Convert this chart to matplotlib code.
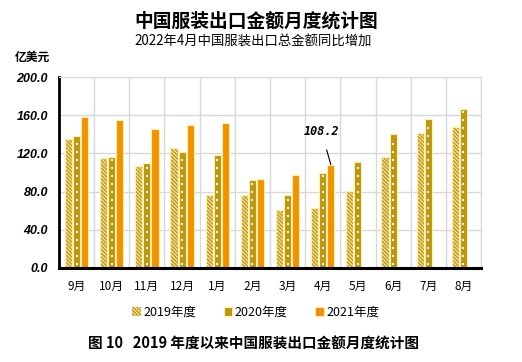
import matplotlib
matplotlib.use("Agg")
import matplotlib.pyplot as plt
import numpy as np

plt.rcParams['font.family'] = ['Noto Sans CJK SC', 'DejaVu Sans']
plt.rcParams['hatch.linewidth'] = 1.3

months = ['9月', '10月', '11月', '12月', '1月', '2月', '3月', '4月', '5月', '6月', '7月', '8月']
y2019 = [134.7, 114.8, 106.5, 125.7, 76.1, 76.1, 60.4, 62.5, 80.6, 116.6, 141.4, 148.0]
y2020 = [137.9, 116.2, 109.6, 121.5, 118.3, 91.8, 76.8, 99.1, 111.0, 140.3, 156.4, 166.8]
y2021 = [158.1, 155.3, 145.2, 150.1, 151.5, 92.8, 97.0, 108.2]
series_names = ['2019年度', '2020年度', '2021年度']
yticks = [0, 40, 80, 120, 160, 200]

c2019 = '#C8A01E'
c2020 = '#BE9612'
c2021 = '#F39200'
cedge = '#FFF0A8'

fig = plt.figure(figsize=(5.22, 3.62), dpi=100)
ax = fig.add_axes([0.113, 0.26, 0.8085, 0.527])

x = np.arange(len(months))
w = 0.2
step = 0.23
b1 = ax.bar(x - step, y2019, w, facecolor='#FFF8DC', edgecolor=c2019, hatch='\\' * 9, linewidth=0, zorder=3)
ax.bar(x - step, y2019, w, fill=False, edgecolor=cedge, linewidth=0.8, zorder=4)
b2 = ax.bar(x, y2020, w, facecolor=c2020, edgecolor=cedge, linewidth=0.8, zorder=3)
b3 = ax.bar(np.arange(len(y2021)) + step, y2021, w, facecolor=c2021, edgecolor=cedge, linewidth=0.8, zorder=3)

# dotted texture of the 2020 bars
for i, v in enumerate(y2020):
    ys = np.arange(4, v - 2, 8.4)
    ax.scatter(np.full(len(ys), x[i]), ys, s=0.6, marker='s', color='white', linewidths=0, zorder=5)

ax.set_xlim(-0.5, len(months) - 0.5)
ax.set_ylim(0, 200)
ax.set_yticks(yticks)
ax.set_yticklabels([f'{v:.1f}' for v in yticks], fontsize=9, fontweight='bold', style='italic',
                   family='Liberation Sans')
ax.set_xticks(x)
ax.set_xticklabels(months, fontsize=8.5)
ax.set_xticks(np.arange(len(months) + 1) - 0.5, minor=True)
ax.tick_params(axis='both', which='both', length=0)
ax.tick_params(axis='x', pad=9)
ax.tick_params(axis='y', pad=8)
ax.grid(axis='y', color='#D9D9D9', linewidth=1, zorder=0)
ax.grid(axis='x', which='minor', color='#D9D9D9', linewidth=1, zorder=0)
ax.spines['left'].set_linewidth(2)
ax.spines['bottom'].set_linewidth(2.2)
ax.spines['bottom'].set_zorder(6)
ax.spines['top'].set_color('#D9D9D9')
ax.spines['right'].set_color('#D9D9D9')

ax.annotate(f'{y2021[7]:.1f}', xy=(7 + step, y2021[7]), xytext=(7 + step - 0.27, y2021[7] + 35),
            fontsize=8.5, fontweight='bold', style='italic', family='DejaVu Sans Mono',
            ha='center', va='center',
            arrowprops=dict(arrowstyle='-', color='black', lw=0.8, shrinkA=7, shrinkB=0))

fig.text(0.49, 0.942, '中国服装出口金额月度统计图', ha='center', va='center', fontsize=13.5, fontweight='bold')
fig.text(0.485, 0.884, '2022年4月中国服装出口总金额同比增加', ha='center', va='center', fontsize=9.6)
fig.text(0.062, 0.842, '亿美元', ha='center', va='center', fontsize=8.5, fontweight='bold')

leg = fig.legend([b1, b2, b3], series_names, loc='center', bbox_to_anchor=(0.49, 0.138), ncol=3,
                 frameon=False, fontsize=9, handlelength=0.7, handleheight=0.7, handletextpad=0.2,
                 columnspacing=2.2)

fig.text(0.485, 0.052, '图 10   2019 年度以来中国服装出口金额月度统计图', ha='center', va='center',
         fontsize=10.5, fontweight='bold')

fig.savefig('out.png', dpi=100)
